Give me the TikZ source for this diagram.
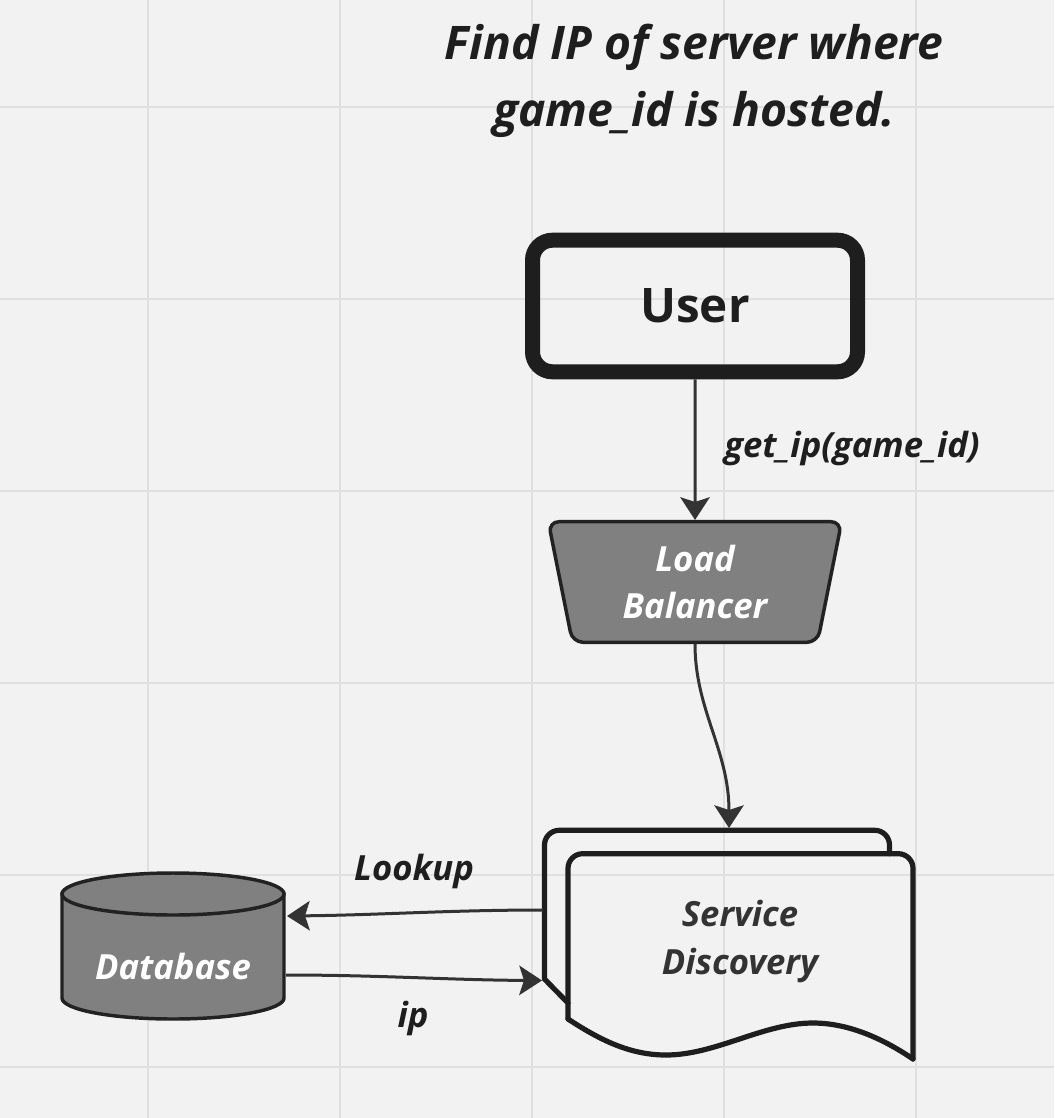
\documentclass[tikz,border=0pt]{standalone}
\usepackage{fontspec}
\setmainfont{Open Sans}
\usetikzlibrary{shapes.geometric,arrows.meta,calc}
\definecolor{bgc}{HTML}{F2F2F2}
\definecolor{gridc}{HTML}{E0E0E0}
\definecolor{ink}{HTML}{1E1E1E}
\definecolor{edgec}{HTML}{333333}
\definecolor{shapeedge}{HTML}{222222}
\definecolor{fillg}{HTML}{808080}
\tikzset{
  gridline/.style={draw=gridc, line width=1pt},
  titletext/.style={font=\fontsize{34.7}{50}\selectfont\bfseries\itshape, text=ink, align=center, inner sep=0pt},
  userbox/.style={draw=ink, line width=11.25pt, rounded corners=15pt, minimum width=243.75pt, minimum height=98.7pt, inner sep=0pt, font=\fontsize{35.7}{43}\selectfont\bfseries, text=ink},
  lbbox/.style={trapezium, trapezium stretches=true, shape border rotate=180, trapezium left angle=79.07, trapezium right angle=79.07, minimum width=220pt, minimum height=90.45pt, draw=shapeedge, fill=fillg, line width=2.6pt, rounded corners=8pt, inner sep=0pt, font=\fontsize{26}{35.25}\selectfont\bfseries\itshape, text=white, align=center},
  lbltext/.style={font=\fontsize{26}{30}\selectfont\bfseries\itshape, text=ink, inner sep=0pt},
  sdtext/.style={font=\fontsize{26}{36}\selectfont\bfseries\itshape, text=edgec, align=center, inner sep=0pt},
  dbtext/.style={font=\fontsize{26}{30}\selectfont\bfseries\itshape, text=white, inner sep=0pt},
  docline/.style={draw=ink, line width=3.9pt, line cap=round, line join=round},
  dbshape/.style={draw=shapeedge, fill=fillg, line width=2.6pt},
  conn/.style={draw=edgec, line width=2.25pt, -{Stealth[length=17pt, width=22pt, inset=3.5pt]}},
}
\begin{document}
\begin{tikzpicture}[x=0.75pt, y=-0.75pt]
  % background and grid
  \fill[bgc] (0,0) rectangle (1054,1118);
  \useasboundingbox (0,0) rectangle (1054,1118);
  \foreach \gx in {148,340,532,724,916} \draw[gridline] (\gx,0) -- (\gx,1118);
  \foreach \gy in {107,299,491,683,875,1067} \draw[gridline] (0,\gy) -- (1054,\gy);

  % title
  \node[titletext] (title) at (694,81) {Find IP of server where\\game\_id is hosted.};

  % user and load balancer
  \node[userbox] (user) at (695,306) {User};
  \node[lbbox] (lb) at (695,582) {Load\\Balancer};

  % service discovery (multi-document shape)
  \draw[docline, rounded corners=11pt] (889.5,853.7) -- (889.5,830.3) -- (544.5,830.3) -- (544.5,979);
  \draw[docline] (544.5,979) -- (568,1003);
  \draw[docline, rounded corners=11pt] (568,1019) -- (568,853.7) -- (913,853.7) -- (913,1059);
  \draw[docline] (568,1019) .. controls (600,1040) and (630,1055) .. (666,1055)
                 .. controls (716,1055) and (763,1023) .. (813,1023)
                 .. controls (850,1023) and (885,1040) .. (913,1059);
  \coordinate (sdTop) at (729,828);
  \coordinate (sdLookup) at (543,910);
  \coordinate (sdIp) at (542,980.5);
  \node[sdtext] (sd) at (740,941) {Service\\Discovery};

  % database (cylinder)
  \draw[dbshape] (62,894) -- (62,998) arc[start angle=180, end angle=0, x radius=111, y radius=21] -- (284,894) -- cycle;
  \draw[dbshape] (173,894) ellipse[x radius=111, y radius=21];
  \coordinate (dbIn) at (287,916);
  \coordinate (dbOut) at (286,975);
  \node[dbtext, anchor=base] (db) at (173,979) {Database};

  % connectors
  \draw[conn] (user.south) -- (lb.north);
  \draw[conn] (lb.south) .. controls (695,710) and (729,750) .. (sdTop);
  \draw[conn] (sdLookup) .. controls (450,910) and (380,915) .. (dbIn);
  \draw[conn] (dbOut) .. controls (380,975) and (450,980) .. (sdIp);

  % labels
  \node[lbltext, anchor=base] (getip) at (852,457) {get\_ip(game\_id)};
  \node[lbltext, anchor=base] (lookup) at (414,880) {Lookup};
  \node[lbltext, anchor=base] (iplbl) at (413,1027) {ip};
\end{tikzpicture}
\end{document}
